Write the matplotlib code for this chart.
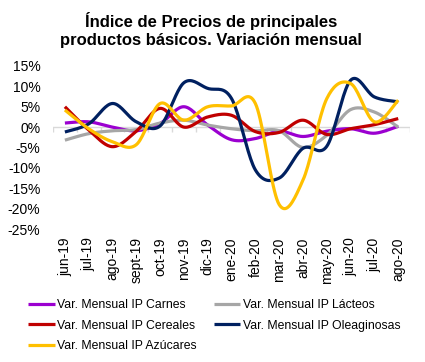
import numpy as np
import matplotlib.pyplot as plt

plt.rcParams['font.family'] = ['Liberation Sans', 'DejaVu Sans']

months = ['jun-19', 'jul-19', 'ago-19', 'sept-19', 'oct-19', 'nov-19', 'dic-19',
          'ene-20', 'feb-20', 'mar-20', 'abr-20', 'may-20', 'jun-20', 'jul-20', 'ago-20']

carnes = [1.0, 1.3, 0.0, -0.9, 0.9, 5.0, 0.5, -3.1, -2.8, -1.0, -2.3, -1.0, -0.4, -1.5, 0.2]
lacteos = [-3.2, -1.6, -0.9, -0.6, 1.0, 1.7, 0.5, -0.4, -0.9, -0.9, -5.0, -2.0, 4.3, 3.7, 0.0]
cereales = [5.0, -0.7, -4.8, -1.0, 4.6, 0.0, 2.5, 2.9, -1.1, -1.3, 1.7, -1.8, -0.4, 0.6, 2.1]
oleaginosas = [-1.2, 0.8, 5.8, 1.3, 0.3, 10.9, 9.5, 7.0, -10.5, -12.5, -5.2, -4.7, 11.5, 7.4, 6.2]
azucares = [4.2, -0.4, -3.6, -4.3, 5.8, 1.7, 5.0, 5.2, 5.8, -19.0, -13.0, 7.0, 10.7, 1.3, 6.6]

series = [
    ('Var. Mensual IP Carnes', carnes, '#9B00D0'),
    ('Var. Mensual IP Lácteos', lacteos, '#A6A6A6'),
    ('Var. Mensual IP Cereales', cereales, '#C00000'),
    ('Var. Mensual IP Oleaginosas', oleaginosas, '#002060'),
    ('Var. Mensual IP Azúcares', azucares, '#FFC000'),
]


# smooth line like excel (catmull-rom through the points)
def smooth(y, n=20):
    y = np.asarray(y, dtype=float)
    x = np.arange(len(y), dtype=float)
    px = np.concatenate([[x[0]], x, [x[-1]]])
    py = np.concatenate([[y[0]], y, [y[-1]]])
    xs, ys = [], []
    t = np.linspace(0, 1, n, endpoint=False)
    for i in range(1, len(px) - 2):
        p0, p1, p2, p3 = py[i - 1], py[i], py[i + 1], py[i + 2]
        q0, q1, q2, q3 = px[i - 1], px[i], px[i + 1], px[i + 2]
        ys.append(0.5 * (2 * p1 + (p2 - p0) * t + (2 * p0 - 5 * p1 + 4 * p2 - p3) * t**2 + (3 * p1 - p0 - 3 * p2 + p3) * t**3))
        xs.append(0.5 * (2 * q1 + (q2 - q0) * t + (2 * q0 - 5 * q1 + 4 * q2 - q3) * t**2 + (3 * q1 - q0 - 3 * q2 + q3) * t**3))
    xs.append([x[-1]])
    ys.append([y[-1]])
    return np.concatenate(xs), np.concatenate(ys)


fig = plt.figure(figsize=(4.25, 3.62), dpi=100)
ax = fig.add_axes([0.1247, 0.3674, 0.8403, 0.4503])

ax.axhline(0, color='#D9D9D9', lw=1, zorder=1)
ax.vlines(np.arange(len(months) + 1) - 0.5, -1.2, 0, color='#D9D9D9', lw=1, zorder=1)

handles = {}
for name, vals, col in series:
    xs, ys = smooth(vals)
    h, = ax.plot(xs, ys, color=col, lw=2.3, label=name, zorder=2, solid_capstyle='butt')
    handles[name] = h

ax.set_xlim(-0.5, len(months) - 0.5)
ax.set_ylim(-25, 15)
ax.set_yticks(np.arange(-25, 16, 5))
ax.set_yticklabels([f'{v}%' for v in range(-25, 16, 5)], fontsize=10)
ax.set_xticks(np.arange(len(months)))
ax.set_xticklabels(months, rotation=90, fontsize=10)
ax.tick_params(axis='y', length=0, pad=9)
ax.tick_params(axis='x', length=0, pad=6)
for s in ax.spines.values():
    s.set_visible(False)

fig.text(0.497, 0.916, 'Índice de Precios de principales\nproductos básicos. Variación mensual',
         ha='center', va='center', fontsize=12, fontweight='bold', linespacing=1.25)

order = ['Var. Mensual IP Carnes', 'Var. Mensual IP Cereales', 'Var. Mensual IP Azúcares',
         'Var. Mensual IP Lácteos', 'Var. Mensual IP Oleaginosas']
fig.legend([handles[k] for k in order], order, loc='upper left', bbox_to_anchor=(0.066, 0.174),
           ncol=2, frameon=False, fontsize=8.8, handlelength=2.2, handletextpad=0.2,
           columnspacing=1.35, labelspacing=0.7, borderaxespad=0, borderpad=0)

fig.savefig('out.png', dpi=100)
